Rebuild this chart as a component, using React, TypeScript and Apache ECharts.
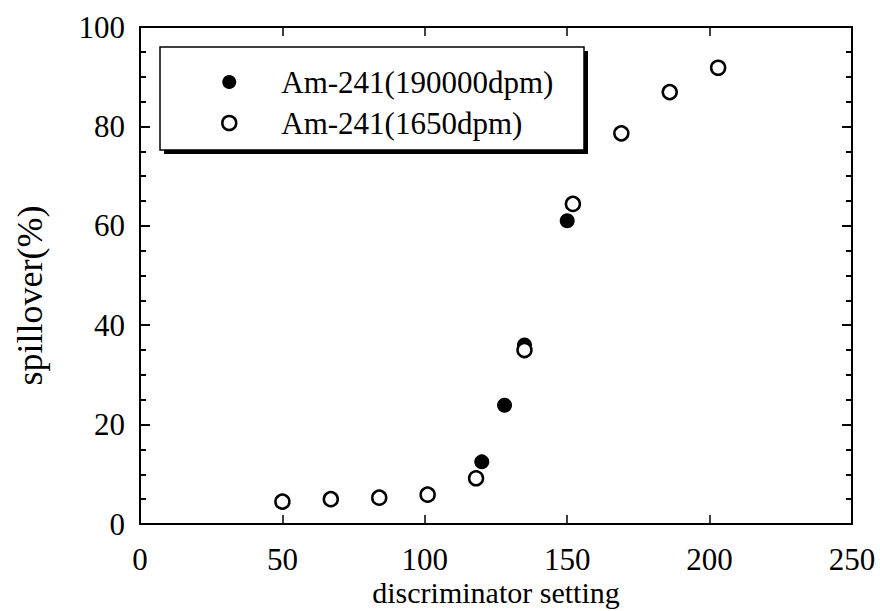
import React, { useEffect, useRef } from "react";
import * as echarts from "echarts";

const seriesNames = ["Am-241(190000dpm)", "Am-241(1650dpm)"];
// Am-241 (190000 dpm) – filled circles
const highX = [120, 128, 135, 150];
const highY = [12.5, 23.9, 36.0, 61.0];
// Am-241 (1650 dpm) – open circles
const lowX = [50, 67, 84, 101, 118, 135, 152, 169, 186, 203];
const lowY = [4.5, 5.0, 5.3, 5.9, 9.2, 35.0, 64.4, 78.6, 86.9, 91.8];

const xTicks = [0, 50, 100, 150, 200, 250];
const yTicks = [0, 20, 40, 60, 80, 100];

const FONT = "Liberation Serif";

export default function App() {
  const ref = useRef<HTMLDivElement>(null);
  useEffect(() => {
    if (!ref.current) return;
    const chart = echarts.init(ref.current, null, { renderer: "svg" });
    const axisLine = { show: true, onZero: false, lineStyle: { color: "#000", width: 2 } };
    const xMin = xTicks[0];
    const xMax = xTicks[xTicks.length - 1];
    const xInt = xTicks[1] - xTicks[0];
    const yMin = yTicks[0];
    const yMax = yTicks[yTicks.length - 1];
    const yInt = yTicks[1] - yTicks[0];
    const labelStyle = { color: "#000", fontFamily: FONT, fontSize: 31 };
    const xTick = { show: true, inside: true, length: 9, lineStyle: { color: "#000", width: 1.5 } };
    const yTick = { show: true, inside: true, length: 10, lineStyle: { color: "#000", width: 2 } };
    const yMinor = { show: true, splitNumber: 4, length: 6, lineStyle: { color: "#000", width: 2 } };
    chart.setOption({
      animation: false,
      backgroundColor: "#fff",
      grid: { left: 140, right: 28, top: 27, bottom: 87, containLabel: false, outerBoundsMode: "none" },
      graphic: [
        { type: "rect", shape: { x: 164, y: 51, width: 424, height: 103 }, style: { fill: "#000" }, z: 10 },
        { type: "rect", shape: { x: 160, y: 47, width: 424, height: 103 }, style: { fill: "#fff", stroke: "#000", lineWidth: 1.5 }, z: 11 },
      ],
      legend: {
        orient: "vertical",
        left: 221,
        top: 64,
        padding: 0,
        itemGap: 5,
        itemWidth: 14,
        itemHeight: 14,
        z: 20,
        data: [
          { name: seriesNames[0], icon: "circle", itemStyle: { color: "#000", borderWidth: 0, opacity: 1 } },
          { name: seriesNames[1], icon: "circle", itemStyle: { color: "#fff", borderColor: "#000", borderWidth: 2.5, opacity: 1 } },
        ],
        textStyle: { color: "#000", fontFamily: FONT, fontSize: 31, lineHeight: 36, padding: [0, 0, 0, 40] },
      },
      xAxis: [
        {
          type: "value",
          position: "bottom",
          min: xMin,
          max: xMax,
          interval: xInt,
          axisLine,
          axisTick: xTick,
          axisLabel: { ...labelStyle, margin: 20, lineHeight: 31 },
          splitLine: { show: false },
          name: "discriminator setting",
          nameLocation: "middle",
          nameGap: 52,
          nameMoveOverlap: false,
          nameTextStyle: { color: "#000", fontFamily: FONT, fontSize: 30, lineHeight: 32 },
        },
        {
          type: "value",
          position: "top",
          min: xMin,
          max: xMax,
          interval: xInt,
          axisLine,
          axisTick: xTick,
          axisLabel: { show: false },
          splitLine: { show: false },
        },
      ],
      yAxis: [
        {
          type: "value",
          position: "left",
          min: yMin,
          max: yMax,
          interval: yInt,
          axisLine,
          axisTick: yTick,
          minorTick: yMinor,
          axisLabel: { ...labelStyle, margin: 15 },
          splitLine: { show: false },
          name: "spillover(%)",
          nameLocation: "middle",
          nameGap: 92,
          nameMoveOverlap: false,
          nameTextStyle: { color: "#000", fontFamily: FONT, fontSize: 36, padding: [0, 40, 0, 0] },
        },
        {
          type: "value",
          position: "right",
          min: yMin,
          max: yMax,
          interval: yInt,
          axisLine,
          axisTick: yTick,
          minorTick: yMinor,
          axisLabel: { show: false },
          splitLine: { show: false },
        },
      ],
      series: [
        {
          name: seriesNames[0],
          type: "scatter",
          xAxisIndex: 0,
          yAxisIndex: 0,
          symbol: "circle",
          symbolSize: 15,
          itemStyle: { color: "#000", opacity: 1 },
          data: highX.map((x, i) => [x, highY[i]]),
          z: 3,
        },
        {
          name: seriesNames[1],
          type: "scatter",
          xAxisIndex: 0,
          yAxisIndex: 0,
          symbol: "circle",
          symbolSize: 14,
          itemStyle: { color: "#fff", borderColor: "#000", borderWidth: 2.5, opacity: 1 },
          data: lowX.map((x, i) => [x, lowY[i]]),
          z: 4,
        },
      ],
    });
    return () => chart.dispose();
  }, []);
  return <div ref={ref} style={{ width: 880, height: 611, position: "absolute", left: 0, top: 0 }} />;
}
